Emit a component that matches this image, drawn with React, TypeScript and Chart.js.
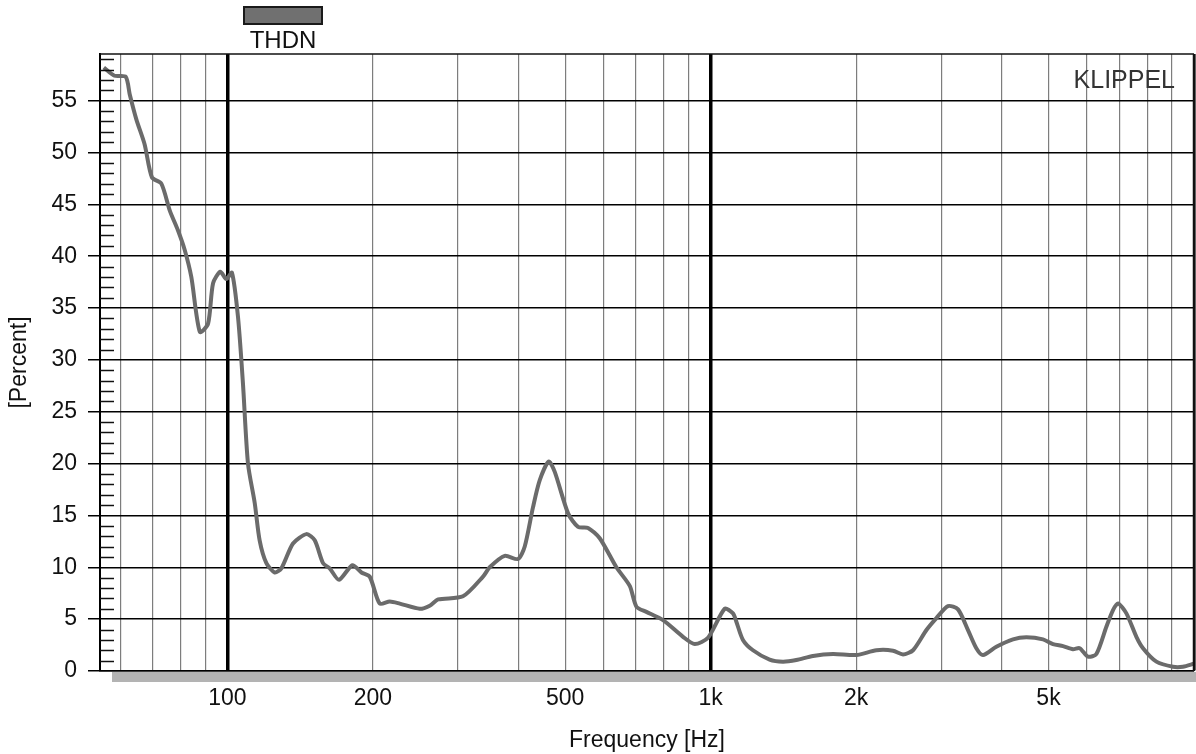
import React, { useEffect, useRef } from "react";
import { Chart, registerables } from "chart.js";

Chart.register(...registerables);

const seriesLabel = "THDN";
const watermark = "KLIPPEL";
const xTitle = "Frequency [Hz]";
const yTitle = "[Percent]";

const frequencies = [
  55.5, 58.4, 61.6, 62.8, 64.8, 67.4, 69.8, 73.0, 76.0, 79.0, 81.6, 84.2, 87.7, 91.2, 93.4, 96.7, 99.5,
  102.2, 105.2, 107.7, 110.3, 113.9, 116.6, 120.4, 125.3, 129.3, 136.7, 145.7, 151.6, 157.7, 162.8,
  170.2, 181.4, 189.4, 197.0, 206.6, 216.7, 227.3, 250.0, 262.2, 272.9, 307.2, 338.0, 348.9, 374.8,
  399.3, 412.3, 428.9, 442.9, 462.3, 475.7, 506.9, 531.6, 557.5, 589.4, 638.1, 680.0, 702.0, 736.2,
  796.9, 876.4, 926.7, 987.2, 1069, 1112, 1130, 1166, 1223, 1324, 1411, 1504, 1628, 1791, 2002, 2202,
  2384, 2500, 2622, 2795, 2931, 3097, 3249, 3407, 3545, 3659, 3900, 4222, 4500, 4870, 5108, 5358, 5617,
  5800, 6035, 6281, 6587, 6799, 6962, 7246, 7600, 7843, 8360, 9046, 9488, 10000,
];

const thdnPercent = [
  58.2, 57.4, 57.3, 55.6, 53.2, 50.8, 47.6, 47.0, 44.4, 42.5, 40.6, 38.0, 32.7, 33.5, 37.4, 38.5, 37.8,
  38.4, 34.1, 27.7, 20.0, 16.2, 12.6, 10.4, 9.5, 9.9, 12.3, 13.2, 12.6, 10.4, 9.9,
  8.8, 10.2, 9.5, 9.1, 6.5, 6.7, 6.5, 6.0, 6.3, 6.9, 7.2, 9.1, 10.0, 11.1,
  10.8, 12.0, 15.8, 18.4, 20.2, 19.2, 15.2, 13.9, 13.8, 12.8, 10.0, 8.2, 6.2, 5.7,
  4.9, 3.3, 2.6, 3.2, 6.0, 5.55, 4.75, 3.0, 2.0, 1.1, 0.9, 1.06, 1.45, 1.64, 1.54, 2.0,
  1.96, 1.6, 2.0, 3.95, 5.1, 6.26, 5.94, 3.95, 2.2, 1.54, 2.34, 3.05, 3.25, 3.05, 2.6, 2.4, 2.1,
  2.2, 1.38, 1.64, 4.27, 5.88, 6.52, 5.56, 3.3, 2.2, 0.9, 0.41, 0.41, 0.7,
];

const xGridTicks = [
  60, 70, 80, 90, 100, 200, 300, 400, 500, 600, 700, 800, 900, 1000, 2000, 3000, 4000, 5000, 6000, 7000,
  8000, 9000, 10000,
];
const xTickLabels: Record<number, string> = { 100: "100", 200: "200", 500: "500", 1000: "1k", 2000: "2k", 5000: "5k" };
const xBoldLines = [100, 1000];
const yTicks = [0, 5, 10, 15, 20, 25, 30, 35, 40, 45, 50, 55];
const xMin = 54.5;
const xMax = 10000;
const yMin = 0;
const yMax = 59.5;

const FONT = "'Liberation Sans', Arial, Helvetica, sans-serif";

export default function App() {
  const canvasRef = useRef<HTMLCanvasElement | null>(null);

  useEffect(() => {
    const canvas = canvasRef.current;
    if (!canvas) return;

    const decor = {
      id: "decor",
      beforeDraw(chart: any) {
        const { ctx, width, height } = chart;
        ctx.save();
        ctx.fillStyle = "#ffffff";
        ctx.fillRect(0, 0, width, height);
        ctx.restore();
      },
      beforeDatasetsDraw(chart: any) {
        const { ctx, chartArea } = chart;
        ctx.save();
        ctx.font = `25px ${FONT}`;
        ctx.fillStyle = "#333333";
        ctx.textAlign = "right";
        ctx.textBaseline = "middle";
        ctx.fillText(watermark, chartArea.right - 19, 81);
        ctx.restore();
      },
      afterDraw(chart: any) {
        const { ctx, chartArea, width } = chart;
        const yScale = chart.scales.y;
        ctx.save();
        // frame
        ctx.strokeStyle = "#111111";
        ctx.lineWidth = 1.6;
        ctx.beginPath();
        ctx.moveTo(chartArea.left, chartArea.top);
        ctx.lineTo(chartArea.right, chartArea.top);
        ctx.stroke();
        ctx.lineWidth = 2.5;
        ctx.beginPath();
        ctx.moveTo(chartArea.right, chartArea.top);
        ctx.lineTo(chartArea.right, chartArea.bottom);
        ctx.stroke();
        // minor y ticks
        ctx.lineWidth = 1.5;
        ctx.strokeStyle = "#111111";
        for (let v = 1; v < yMax; v++) {
          if (v % 5 === 0) continue;
          const py = Math.round(yScale.getPixelForValue(v)) + 0.5;
          ctx.beginPath();
          ctx.moveTo(chartArea.left, py);
          ctx.lineTo(chartArea.left + 14, py);
          ctx.stroke();
        }
        // gray bar under plot
        ctx.fillStyle = "#b3b3b3";
        ctx.fillRect(112, chartArea.bottom + 1, width - 112, 10);
        // legend
        ctx.fillStyle = "#707070";
        ctx.fillRect(244, 7, 78, 17);
        ctx.strokeStyle = "#1a1a1a";
        ctx.lineWidth = 2;
        ctx.strokeRect(244, 7, 78, 17);
        ctx.font = `24px ${FONT}`;
        ctx.fillStyle = "#111111";
        ctx.textAlign = "center";
        ctx.textBaseline = "middle";
        ctx.fillText(seriesLabel, 283, 41);
        ctx.restore();
      },
    };

    const chart = new Chart(canvas, {
      type: "line",
      data: {
        datasets: [
          {
            label: seriesLabel,
            data: frequencies.map((f, i) => ({ x: f, y: thdnPercent[i] })),
            borderColor: "#6b6b6b",
            borderWidth: 4,
            pointRadius: 0,
            tension: 0.25,
            fill: false,
          },
        ],
      },
      options: {
        animation: false,
        responsive: false,
        maintainAspectRatio: false,
        layout: { padding: { top: 54, right: 2, left: 0, bottom: 0 } },
        plugins: { legend: { display: false }, tooltip: { enabled: false } },
        scales: {
          x: {
            type: "logarithmic",
            min: xMin,
            max: xMax,
            afterBuildTicks: (scale: any) => {
              scale.ticks = xGridTicks.map((v) => ({ value: v }));
            },
            afterFit: (scale: any) => {
              scale.height = 83;
              scale.paddingLeft = 0;
              scale.paddingRight = 0;
            },
            ticks: {
              autoSkip: false,
              maxRotation: 0,
              minRotation: 0,
              padding: 14,
              color: "#111111",
              font: { family: FONT, size: 23 },
              callback: (value: any) => xTickLabels[Number(value)] ?? "",
            },
            grid: {
              drawTicks: false,
              color: (ctx: any) => {
                const v = ctx.tick?.value;
                if (xBoldLines.includes(v) || v === xMax) return "#000000";
                return "#7d7d7d";
              },
              lineWidth: (ctx: any) => {
                const v = ctx.tick?.value;
                if (xBoldLines.includes(v)) return 3.5;
                if (v === xMax) return 2.5;
                return 1.2;
              },
            },
            border: { display: true, color: "#000000", width: 1.5 },
            title: {
              display: true,
              text: xTitle,
              color: "#111111",
              font: { family: FONT, size: 23 },
              padding: { top: 0, bottom: 0 },
            },
          },
          y: {
            type: "linear",
            min: yMin,
            max: yMax,
            afterBuildTicks: (scale: any) => {
              scale.ticks = yTicks.map((v) => ({ value: v }));
            },
            afterFit: (scale: any) => {
              scale.width = 100;
              scale.paddingTop = 0;
              scale.paddingBottom = 0;
            },
            ticks: {
              padding: 11,
              color: "#111111",
              font: { family: FONT, size: 23 },
              callback: (value: any) => String(value),
            },
            grid: {
              color: "#000000",
              lineWidth: 1.5,
              drawTicks: true,
              tickLength: 12,
              tickColor: "#000000",
              tickWidth: 1.5,
            },
            border: { display: true, color: "#000000", width: 2 },
            title: {
              display: true,
              text: yTitle,
              color: "#111111",
              font: { family: FONT, size: 23 },
              padding: { top: 6, bottom: 0 },
            },
          },
        },
      },
      plugins: [decor],
    });

    return () => {
      chart.destroy();
    };
  }, []);

  return (
    <div style={{ position: "fixed", left: 0, top: 0, width: 1196, height: 754, background: "#fff" }}>
      <canvas ref={canvasRef} width={1196} height={754} style={{ width: 1196, height: 754, display: "block" }} />
    </div>
  );
}
